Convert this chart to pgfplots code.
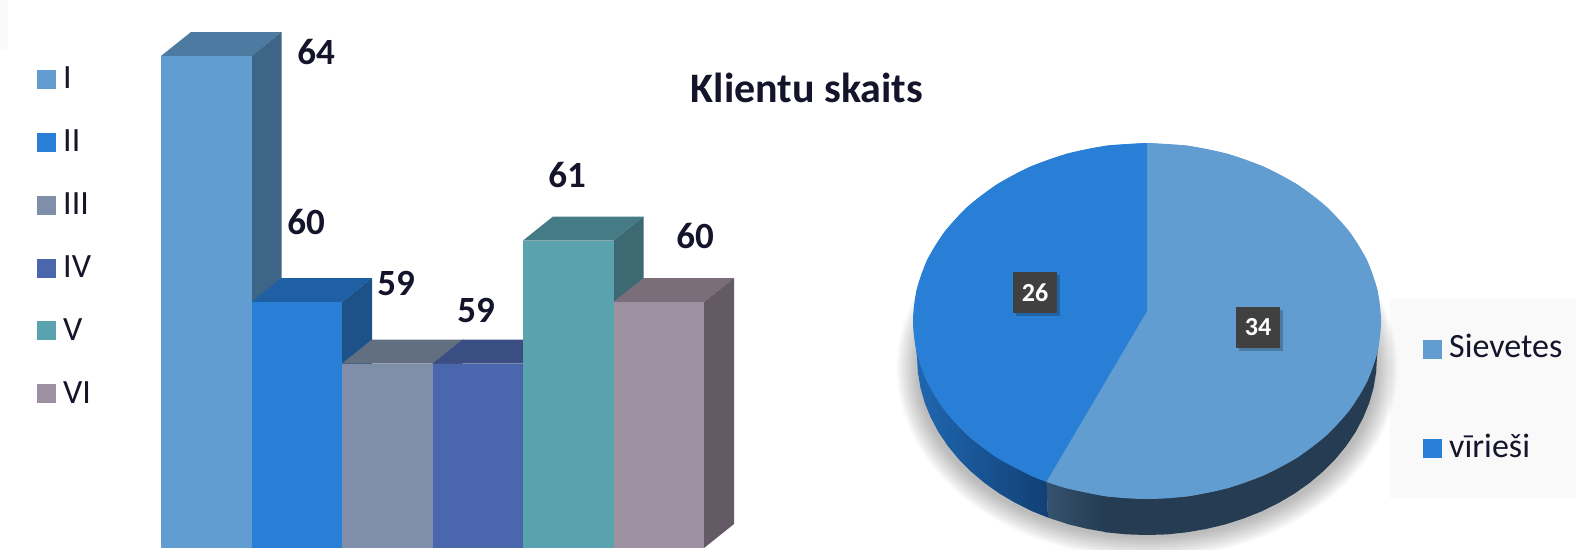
\documentclass[border=0pt]{standalone}
\usepackage{fontspec}
\setmainfont{Carlito}
\usepackage{pgfplots}
\pgfplotsset{compat=1.18}
\definecolor{txt}{HTML}{14142B}
\definecolor{cI}{HTML}{629DD1}\definecolor{cIt}{HTML}{4D7AA1}\definecolor{cIs}{HTML}{3F6586}
\definecolor{cII}{HTML}{297FD5}\definecolor{cIIt}{HTML}{1F5FA3}\definecolor{cIIs}{HTML}{1C5288}
\definecolor{cIII}{HTML}{7F8FA9}\definecolor{cIIIt}{HTML}{626F80}\definecolor{cIIIs}{HTML}{566273}
\definecolor{cIV}{HTML}{4A66AC}\definecolor{cIVt}{HTML}{3A4E84}\definecolor{cIVs}{HTML}{324470}
\definecolor{cV}{HTML}{5AA2AE}\definecolor{cVt}{HTML}{457B84}\definecolor{cVs}{HTML}{3C6972}
\definecolor{cVI}{HTML}{9D90A0}\definecolor{cVIt}{HTML}{7A6E7B}\definecolor{cVIs}{HTML}{645A66}
\definecolor{wallR}{HTML}{253C52}\definecolor{wallRl}{HTML}{35526E}
\definecolor{wallL}{HTML}{2068B2}\definecolor{wallLd}{HTML}{114075}
\newcommand{\lab}[1]{\fontsize{34}{40}\selectfont\color{txt}#1}
\newcommand{\val}[1]{\fontsize{37}{44}\selectfont\bfseries\color{txt}#1}
\newcommand{\ttl}[1]{\fontsize{42}{50}\selectfont\bfseries\color{txt}#1}
\begin{document}
\begin{tikzpicture}
% page-sized axis in reference pixels: title, legends, pie
\begin{axis}[at={(0pt,0pt)},anchor=south west,scale only axis,width=1576pt,height=549pt,
  xmin=0,xmax=1576,ymin=0,ymax=549,y dir=reverse,hide axis]
\addplot[fill=black!2,draw=none] coordinates {(0,0)(8,0)(8,50)(0,50)};
\addplot[fill=black!2.4,draw=none] coordinates {(1390,298)(1576,298)(1576,498)(1390,498)};
\foreach \r in {0,2,...,20}{
  \edef\tmp{\noexpand\fill[black,opacity=.027] (axis cs:1147,368) ellipse [x radius={230+\r},y radius={170+\r}];}
  \tmp
}
% pie walls
\addplot[fill=wallR,draw=none] coordinates {(1381,321)(1377,357)(1376.1,372.5)(1373.5,387.9)(1369.2,403.1)(1363.1,417.9)(1355.5,432.2)(1346.2,446)(1335.4,459.1)(1323.2,471.4)(1309.6,482.9)(1294.8,493.4)(1278.9,502.8)(1262,511.2)(1244.2,518.3)(1225.7,524.3)(1206.5,528.9)(1186.9,532.3)(1167,534.4)(1147,535)(1127,534.4)(1105,532.2)(1105,480)};
\addplot[draw=none,left color=wallRl,right color=wallR] coordinates {(1046.4,481.7)(1048,517.6)(1068.3,524.3)(1087.5,528.9)(1107.1,532.3)(1107.1,480)};
\addplot[draw=none,left color=wallL,right color=wallLd] coordinates {(1046.4,481.7)(1048,517.6)(1032,511.2)(1015.1,502.8)(999.2,493.4)(984.4,482.9)(970.8,471.4)(958.6,459.1)(947.8,446)(938.5,432.2)(930.9,417.9)(924.8,403.1)(920.5,387.9)(917.9,372.5)(917,357)(913,321)};
% pie slices: Sievetes 34, viriesi 26
\addplot[fill=cI,draw=none] coordinates {(1147,311)(1147,143)(1187.6,145.7)(1227,153.7)(1264,166.8)(1297.4,184.6)(1326.3,206.6)(1349.6,232)(1366.9,260.1)(1377.4,290.1)(1381,321)(1377.4,351.9)(1366.9,381.9)(1349.6,410)(1326.3,435.4)(1297.4,457.4)(1264,475.2)(1227,488.3)(1187.6,496.3)(1147,499)(1106.4,496.3)(1067,488.3)(1046.4,481.7)};
\addplot[fill=cI,draw=none,smooth] coordinates {(1147,143)(1187.6,145.7)(1227,153.7)(1264,166.8)(1297.4,184.6)(1326.3,206.6)(1349.6,232)(1366.9,260.1)(1377.4,290.1)(1381,321)(1377.4,351.9)(1366.9,381.9)(1349.6,410)(1326.3,435.4)(1297.4,457.4)(1264,475.2)(1227,488.3)(1187.6,496.3)(1147,499)(1106.4,496.3)(1067,488.3)(1046.4,481.7)};
\addplot[fill=cII,draw=none] coordinates {(1147,311)(1046.4,481.7)(1030,475.2)(996.6,457.4)(967.7,435.4)(944.4,410)(927.1,381.9)(916.6,351.9)(913,321)(916.6,290.1)(927.1,260.1)(944.4,232)(967.7,206.6)(996.6,184.6)(1030,166.8)(1067,153.7)(1106.4,145.7)(1147,143)};
\addplot[fill=cII,draw=none,smooth] coordinates {(1046.4,481.7)(1030,475.2)(996.6,457.4)(967.7,435.4)(944.4,410)(927.1,381.9)(916.6,351.9)(913,321)(916.6,290.1)(927.1,260.1)(944.4,232)(967.7,206.6)(996.6,184.6)(1030,166.8)(1067,153.7)(1106.4,145.7)(1147,143)};
% pie value boxes
\addplot[fill=black,fill opacity=.22,draw=none] coordinates {(1016,275)(1060,275)(1060,316)(1016,316)};
\addplot[fill=black!75,draw=none] coordinates {(1013,272)(1057,272)(1057,313)(1013,313)};
\addplot[fill=black,fill opacity=.22,draw=none] coordinates {(1239,310)(1283,310)(1283,351)(1239,351)};
\addplot[fill=black!75,draw=none] coordinates {(1236,307)(1280,307)(1280,348)(1236,348)};
\node[text=white,font=\fontsize{26}{30}\selectfont\bfseries] at (axis cs:1035,292.5) {26};
\node[text=white,font=\fontsize{26}{30}\selectfont\bfseries] at (axis cs:1258,327.5) {34};
% legends
\addplot[only marks,mark=square*,mark size=8.7pt,mark options={draw=cI,fill=cI}] coordinates {(46,79)};
\addplot[only marks,mark=square*,mark size=8.7pt,mark options={draw=cII,fill=cII}] coordinates {(46,142)};
\addplot[only marks,mark=square*,mark size=8.7pt,mark options={draw=cIII,fill=cIII}] coordinates {(46,205)};
\addplot[only marks,mark=square*,mark size=8.7pt,mark options={draw=cIV,fill=cIV}] coordinates {(46,268)};
\addplot[only marks,mark=square*,mark size=8.7pt,mark options={draw=cV,fill=cV}] coordinates {(46,330)};
\addplot[only marks,mark=square*,mark size=8.7pt,mark options={draw=cVI,fill=cVI}] coordinates {(46,393)};
\addplot[only marks,mark=square*,mark size=8.7pt,mark options={draw=cI,fill=cI}] coordinates {(1432,349)};
\addplot[only marks,mark=square*,mark size=8.7pt,mark options={draw=cII,fill=cII}] coordinates {(1432,448)};
\node[anchor=west,inner sep=0pt] at (axis cs:63,78) {\lab{I}};
\node[anchor=west,inner sep=0pt] at (axis cs:63,141) {\lab{II}};
\node[anchor=west,inner sep=0pt] at (axis cs:63,204) {\lab{III}};
\node[anchor=west,inner sep=0pt] at (axis cs:63,267) {\lab{IV}};
\node[anchor=west,inner sep=0pt] at (axis cs:63,330) {\lab{V}};
\node[anchor=west,inner sep=0pt] at (axis cs:63,393) {\lab{VI}};
\node[anchor=west,inner sep=0pt] at (axis cs:1449,346) {\lab{Sievetes}};
\node[anchor=west,inner sep=0pt] at (axis cs:1449,446) {\lab{vīrieši}};
\node at (axis cs:807,88) {\ttl{Klientu skaits}};
\node at (axis cs:316,52) {\val{64}};
\node at (axis cs:306,222) {\val{60}};
\node at (axis cs:396,283) {\val{59}};
\node at (axis cs:476,310) {\val{59}};
\node at (axis cs:567,175) {\val{61}};
\node at (axis cs:695,236) {\val{60}};
\end{axis}
% bar axis: one unit of x is one bar
\begin{axis}[at={(161pt,1pt)},anchor=south west,scale only axis,width=579.2pt,height=522.75pt,
  xmin=0,xmax=6.4,ymin=56,ymax=64.5,hide axis]
% I = 64
\addplot[fill=cIt,draw=none] coordinates {(0,64)(.3315,64.39)(1.3315,64.39)(1,64)};
\addplot[fill=cIs,draw=none] coordinates {(1,64)(1.3315,64.39)(1.3315,56.39)(1,56)};
\addplot[ybar,bar width=90.5pt,bar shift=0pt,fill=cI,draw=none] coordinates {(.5,64)};
% II = 60
\addplot[fill=cIIt,draw=none] coordinates {(1,60)(1.3315,60.39)(2.3315,60.39)(2,60)};
\addplot[fill=cIIs,draw=none] coordinates {(2,60)(2.3315,60.39)(2.3315,56.39)(2,56)};
\addplot[ybar,bar width=90.5pt,bar shift=0pt,fill=cII,draw=none] coordinates {(1.5,60)};
% III = 59
\addplot[fill=cIIIt,draw=none] coordinates {(2,59)(2.3315,59.39)(3.3315,59.39)(3,59)};
\addplot[fill=cIIIs,draw=none] coordinates {(3,59)(3.3315,59.39)(3.3315,56.39)(3,56)};
\addplot[ybar,bar width=90.5pt,bar shift=0pt,fill=cIII,draw=none] coordinates {(2.5,59)};
% IV = 59
\addplot[fill=cIVt,draw=none] coordinates {(3,59)(3.3315,59.39)(4.3315,59.39)(4,59)};
\addplot[fill=cIVs,draw=none] coordinates {(4,59)(4.3315,59.39)(4.3315,56.39)(4,56)};
\addplot[ybar,bar width=90.5pt,bar shift=0pt,fill=cIV,draw=none] coordinates {(3.5,59)};
% V = 61
\addplot[fill=cVt,draw=none] coordinates {(4,61)(4.3315,61.39)(5.3315,61.39)(5,61)};
\addplot[fill=cVs,draw=none] coordinates {(5,61)(5.3315,61.39)(5.3315,56.39)(5,56)};
\addplot[ybar,bar width=90.5pt,bar shift=0pt,fill=cV,draw=none] coordinates {(4.5,61)};
% VI = 60
\addplot[fill=cVIt,draw=none] coordinates {(5,60)(5.3315,60.39)(6.3315,60.39)(6,60)};
\addplot[fill=cVIs,draw=none] coordinates {(6,60)(6.3315,60.39)(6.3315,56.39)(6,56)};
\addplot[ybar,bar width=90.5pt,bar shift=0pt,fill=cVI,draw=none] coordinates {(5.5,60)};
\end{axis}
\end{tikzpicture}
\end{document}
